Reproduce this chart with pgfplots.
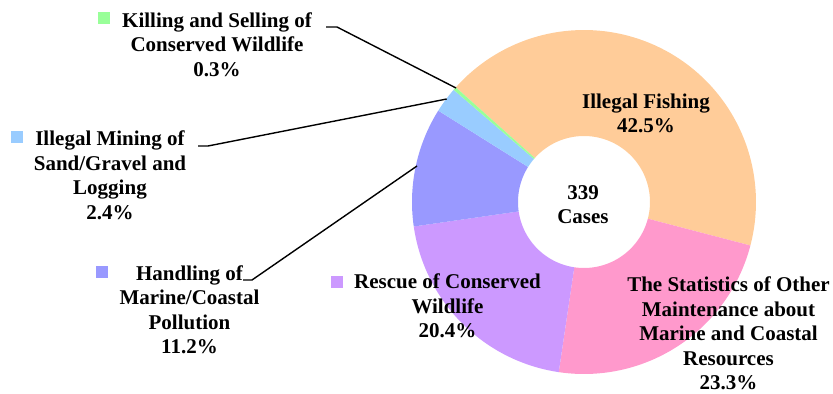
\documentclass[border=0pt]{standalone}
\usepackage{fontspec}
\setmainfont{Liberation Serif}
\usepackage{pgfplots}
\pgfplotsset{compat=1.18}
\definecolor{cFish}{HTML}{FFCC99}
\definecolor{cStat}{HTML}{FF99CC}
\definecolor{cRescue}{HTML}{CC99FF}
\definecolor{cPoll}{HTML}{9999FF}
\definecolor{cMine}{HTML}{99CCFF}
\definecolor{cKill}{HTML}{99FF99}
% data (percent of 339 cases)
\def\vFish{42.5}
\def\vStat{23.3}
\def\vRescue{20.4}
\def\vPoll{11.2}
\def\vMine{2.4}
\def\vKill{0.3}
\def\vTotal{100.1}
\pgfmathsetmacro\aA{138.2}
\pgfmathsetmacro\aB{\aA-360*\vFish/\vTotal}
\pgfmathsetmacro\aC{\aB-360*\vStat/\vTotal}
\pgfmathsetmacro\aD{\aC-360*\vRescue/\vTotal}
\pgfmathsetmacro\aE{\aD-360*\vPoll/\vTotal}
\pgfmathsetmacro\aF{\aE-360*\vMine/\vTotal}
\pgfmathsetmacro\aG{\aF-360*\vKill/\vTotal}
\def\cx{584}
\def\cy{192}
\def\Ro{172}
\def\Ri{66}
\newcommand{\ringslice}[3]{%
  \addplot[fill=#3, draw=none, domain=0:3, samples=241, variable=\t]
   ({\cx + ifthenelse(\t<=1,\Ro,ifthenelse(\t<=2,\Ro+(\Ri-\Ro)*(\t-1),\Ri))*cos(ifthenelse(\t<=1,#1+(#2-#1)*\t,ifthenelse(\t<=2,#2,#2+(#1-#2)*(\t-2))))},
    {\cy + ifthenelse(\t<=1,\Ro,ifthenelse(\t<=2,\Ro+(\Ri-\Ro)*(\t-1),\Ri))*sin(ifthenelse(\t<=1,#1+(#2-#1)*\t,ifthenelse(\t<=2,#2,#2+(#1-#2)*(\t-2))))});
}
\tikzset{lbl/.style={font=\fontsize{21bp}{24.5bp}\selectfont\bfseries, align=center, inner sep=0pt}}
\begin{document}
\begin{tikzpicture}
\begin{axis}[x=1bp, y=1bp, xmin=0, xmax=833, ymin=0, ymax=394,
  hide axis, clip=false, anchor=south west, at={(0,0)}]
\ringslice{\aA}{\aB}{cFish}
\ringslice{\aB}{\aC}{cStat}
\ringslice{\aC}{\aD}{cRescue}
\ringslice{\aD}{\aE}{cPoll}
\ringslice{\aE}{\aF}{cMine}
\ringslice{\aF}{\aG}{cKill}
% leader lines
\addplot[black, line width=1.4bp] coordinates {(326,367) (337,367) (456,306)};
\addplot[black, line width=1.4bp] coordinates {(198,248) (208,248) (446.7,295)};
\addplot[black, line width=1.4bp] coordinates {(243,114) (252,114) (417,228)};
% legend keys
\addplot[only marks, mark=square*, mark size=5.5bp, cKill, mark options={draw=cKill,fill=cKill}] coordinates {(104,376)};
\addplot[only marks, mark=square*, mark size=5.5bp, cMine, mark options={draw=cMine,fill=cMine}] coordinates {(17,257)};
\addplot[only marks, mark=square*, mark size=5.5bp, cPoll, mark options={draw=cPoll,fill=cPoll}] coordinates {(102,122)};
\addplot[only marks, mark=square*, mark size=5.5bp, cRescue, mark options={draw=cRescue,fill=cRescue}] coordinates {(337,112)};
% labels
\node[lbl] at (axis cs:217,349.5) {Killing and Selling of\\Conserved Wildlife\\0.3\%};
\node[lbl] at (axis cs:110,218.5) {Illegal Mining of\\Sand/Gravel and\\Logging\\2.4\%};
\node[lbl] at (axis cs:189.5,84) {Handling of\\Marine/Coastal\\Pollution\\11.2\%};
\node[lbl] at (axis cs:447.5,88) {Rescue of Conserved\\Wildlife\\20.4\%};
\node[lbl] at (axis cs:646,280.5) {Illegal Fishing\\42.5\%};
\node[lbl] at (axis cs:728.5,60.5) {The Statistics of Other\\Maintenance about\\Marine and Coastal\\Resources\\23.3\%};
\node[lbl] at (axis cs:583,189.5) {339\\Cases};
\end{axis}
\pgfresetboundingbox
\path[use as bounding box] (0,0) rectangle (833bp,394bp);
\end{tikzpicture}
\end{document}
